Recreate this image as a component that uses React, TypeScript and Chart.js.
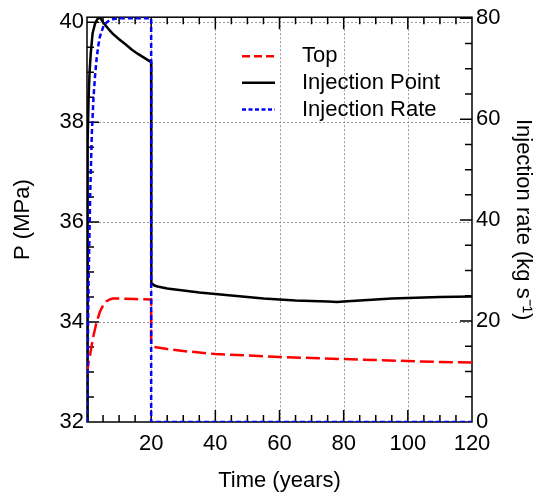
import React, { useEffect, useRef } from 'react';
import { Chart, registerables } from 'chart.js';

Chart.register(...registerables);

const FONT = "'Liberation Sans', Arial, Helvetica, sans-serif";

// Top (red dashed) – pressure, MPa
const topTime = [0, 0.5, 1, 1.5, 2, 2.5, 3, 4, 5, 6, 7, 8, 10, 15, 20, 20, 21, 25, 30, 35, 40, 50, 60, 70, 80, 90, 100, 110, 120];
const topValues = [32.95, 33.2, 33.35, 33.55, 33.72, 33.86, 34.0, 34.2, 34.33, 34.41, 34.45, 34.47, 34.47, 34.46, 34.45, 33.55, 33.5, 33.46, 33.42, 33.39, 33.36, 33.33, 33.3, 33.28, 33.26, 33.24, 33.22, 33.2, 33.19];

// Injection point (black) – pressure, MPa
const injTime = [0, 0.1, 0.3, 0.5, 0.8, 1.2, 1.75, 2.5, 3.2, 4, 5, 6, 7, 8, 10, 12, 14, 16, 18, 20, 20, 20.1, 21, 22, 25, 30, 35, 40, 45, 50, 55, 60, 65, 70, 75, 78, 80, 85, 90, 95, 100, 110, 120];
const injValues = [32, 35.5, 37.6, 38.5, 39.0, 39.4, 39.78, 39.97, 40.06, 40.1, 40.0, 39.92, 39.84, 39.77, 39.66, 39.56, 39.45, 39.36, 39.28, 39.2, 34.85, 34.78, 34.73, 34.71, 34.67, 34.63, 34.59, 34.56, 34.53, 34.5, 34.47, 34.45, 34.43, 34.42, 34.41, 34.4, 34.41, 34.43, 34.45, 34.47, 34.48, 34.5, 34.51];

// Injection rate (blue dotted) – kg/s
const rateTime = [0, 0.25, 0.5, 1, 1.5, 2, 2.5, 3, 3.5, 4, 5, 6, 7, 8, 10, 15, 20, 20, 40, 60, 80, 100, 120];
const rateValues = [0, 15, 28, 45, 57, 64, 68.5, 72, 74.5, 76.3, 78.2, 79.1, 79.6, 79.8, 80, 80, 80, 0, 0, 0, 0, 0, 0];

// Tick labels
const xTicks = [20, 40, 60, 80, 100, 120];
const leftTicks = [32, 34, 36, 38, 40];
const rightTicks = [0, 20, 40, 60, 80];

const legendDash = [[8, 4], [], [4, 2.5]];

const pairs = (xs: number[], ys: number[]) => xs.map((x, i) => ({ x, y: ys[i] }));

const framePlugin = {
  id: 'frame',
  beforeDatasetsDraw(chart: any) {
    const { ctx, chartArea: a, scales } = chart;
    const sx = scales.x, yl = scales.yP, yr = scales.yR;
    ctx.save();
    ctx.strokeStyle = '#999';
    ctx.lineWidth = 1;
    ctx.setLineDash([2, 2]);
    ctx.beginPath();
    xTicks.forEach((v) => {
      const px = Math.round(sx.getPixelForValue(v)) + 0.5;
      if (px < a.right - 2 && px > a.left + 2) {
        ctx.moveTo(px, a.top);
        ctx.lineTo(px, a.bottom);
      }
    });
    leftTicks.forEach((v) => {
      const py = Math.round(yl.getPixelForValue(v)) + 0.5;
      if (py > a.top + 2 && py < a.bottom - 2) {
        ctx.moveTo(a.left, py);
        ctx.lineTo(a.right, py);
      }
    });
    ctx.stroke();
    ctx.setLineDash([]);
    ctx.strokeStyle = '#000';
    ctx.lineWidth = 1.5;
    ctx.beginPath();
    for (let t = 5; t < 120; t += 5) {
      const px = sx.getPixelForValue(t);
      const len = t % 20 === 0 ? 12 : 7;
      ctx.moveTo(px, a.bottom);
      ctx.lineTo(px, a.bottom - len);
      ctx.moveTo(px, a.top);
      ctx.lineTo(px, a.top + len);
    }
    for (let k = 1; k <= 16; k++) {
      const p = 32 + k * 0.5;
      const py = yl.getPixelForValue(p);
      const len = k % 4 === 0 ? 12 : 7;
      ctx.moveTo(a.left, py);
      ctx.lineTo(a.left + len, py);
    }
    for (let k = 1; k <= 16; k++) {
      const r = k * 5;
      const py = yr.getPixelForValue(r);
      const len = k % 4 === 0 ? 12 : 7;
      ctx.moveTo(a.right, py);
      ctx.lineTo(a.right - len, py);
    }
    ctx.stroke();
    ctx.lineWidth = 1.5;
    ctx.strokeRect(a.left, a.top, a.right - a.left, a.bottom - a.top);
    ctx.restore();
  },
  afterDraw(chart: any) {
    const { ctx, chartArea: a } = chart;
    ctx.save();
    ctx.font = `22px ${FONT}`;
    ctx.textBaseline = 'middle';
    ctx.textAlign = 'left';
    chart.data.datasets.forEach((ds: any, i: number) => {
      const y = a.top + 39 + i * 26.67;
      const x0 = a.left + 155;
      ctx.strokeStyle = ds.borderColor;
      ctx.lineWidth = 2.5;
      ctx.setLineDash(legendDash[i]);
      ctx.beginPath();
      ctx.moveTo(x0, y);
      ctx.lineTo(x0 + 33, y);
      ctx.stroke();
      ctx.setLineDash([]);
      ctx.fillStyle = '#000';
      ctx.fillText(ds.label, x0 + 60, y);
    });
    ctx.restore();
  },
};

export default function App() {
  const ref = useRef<HTMLCanvasElement | null>(null);
  useEffect(() => {
    if (!ref.current) return;
    const tickFont = { family: FONT, size: 22 };
    const chart = new Chart(ref.current, {
      type: 'line',
      data: {
        datasets: [
          {
            label: 'Top',
            data: pairs(topTime, topValues),
            yAxisID: 'yP',
            borderColor: '#ff0000',
            borderWidth: 2.5,
            borderDash: [14, 5],
            pointRadius: 0,
            tension: 0,
            fill: false,
            order: 1,
          },
          {
            label: 'Injection Point',
            data: pairs(injTime, injValues),
            yAxisID: 'yP',
            borderColor: '#000000',
            borderWidth: 2.5,
            pointRadius: 0,
            tension: 0,
            fill: false,
            order: 2,
          },
          {
            label: 'Injection Rate',
            data: pairs(rateTime, rateValues),
            yAxisID: 'yR',
            borderColor: '#0000ff',
            borderWidth: 2.5,
            borderDash: [5, 3],
            pointRadius: 0,
            tension: 0,
            fill: false,
            order: 0,
          },
        ],
      },
      options: {
        animation: false,
        responsive: true,
        maintainAspectRatio: false,
        layout: { padding: { top: 16, left: 0, right: 0, bottom: 0 } },
        plugins: { legend: { display: false }, tooltip: { enabled: false } },
        scales: {
          x: {
            type: 'linear',
            position: 'bottom',
            min: 0,
            max: 120,
            grid: { display: false, drawTicks: false },
            border: { display: false },
            ticks: { font: tickFont, color: '#000', padding: 9, maxRotation: 0, autoSkip: false },
            afterBuildTicks: (s: any) => { s.ticks = xTicks.map((v) => ({ value: v })); },
            afterFit: (s: any) => { s.height = 75; },
            title: { display: true, text: 'Time (years)', font: tickFont, color: '#000', padding: { top: 0, bottom: 3 } },
          },
          yP: {
            type: 'linear',
            position: 'left',
            min: 32,
            max: 40.1,
            grid: { display: false, drawTicks: false },
            border: { display: false },
            ticks: { font: tickFont, color: '#000', padding: 3, autoSkip: false },
            afterBuildTicks: (s: any) => { s.ticks = leftTicks.map((v) => ({ value: v })); },
            afterFit: (s: any) => { s.width = 87; },
            title: { display: true, text: 'P (MPa)', font: tickFont, color: '#000', padding: { top: 10, bottom: 0 } },
          },
          yR: {
            type: 'linear',
            position: 'right',
            min: 0,
            max: 80.2,
            grid: { display: false, drawTicks: false },
            border: { display: false },
            ticks: { font: tickFont, color: '#000', padding: 4, autoSkip: false },
            afterBuildTicks: (s: any) => { s.ticks = rightTicks.map((v) => ({ value: v })); },
            afterFit: (s: any) => { s.width = 64; },
            title: { display: true, text: 'Injection rate (kg s\u207B\u00B9)', font: tickFont, color: '#000', padding: { top: 0, bottom: 0 } },
          },
        },
      },
      plugins: [framePlugin],
    } as any);
    return () => chart.destroy();
  }, []);
  return (
    <div style={{ position: 'fixed', left: 0, top: 0, width: 536, height: 497 }}>
      <canvas ref={ref} />
    </div>
  );
}
